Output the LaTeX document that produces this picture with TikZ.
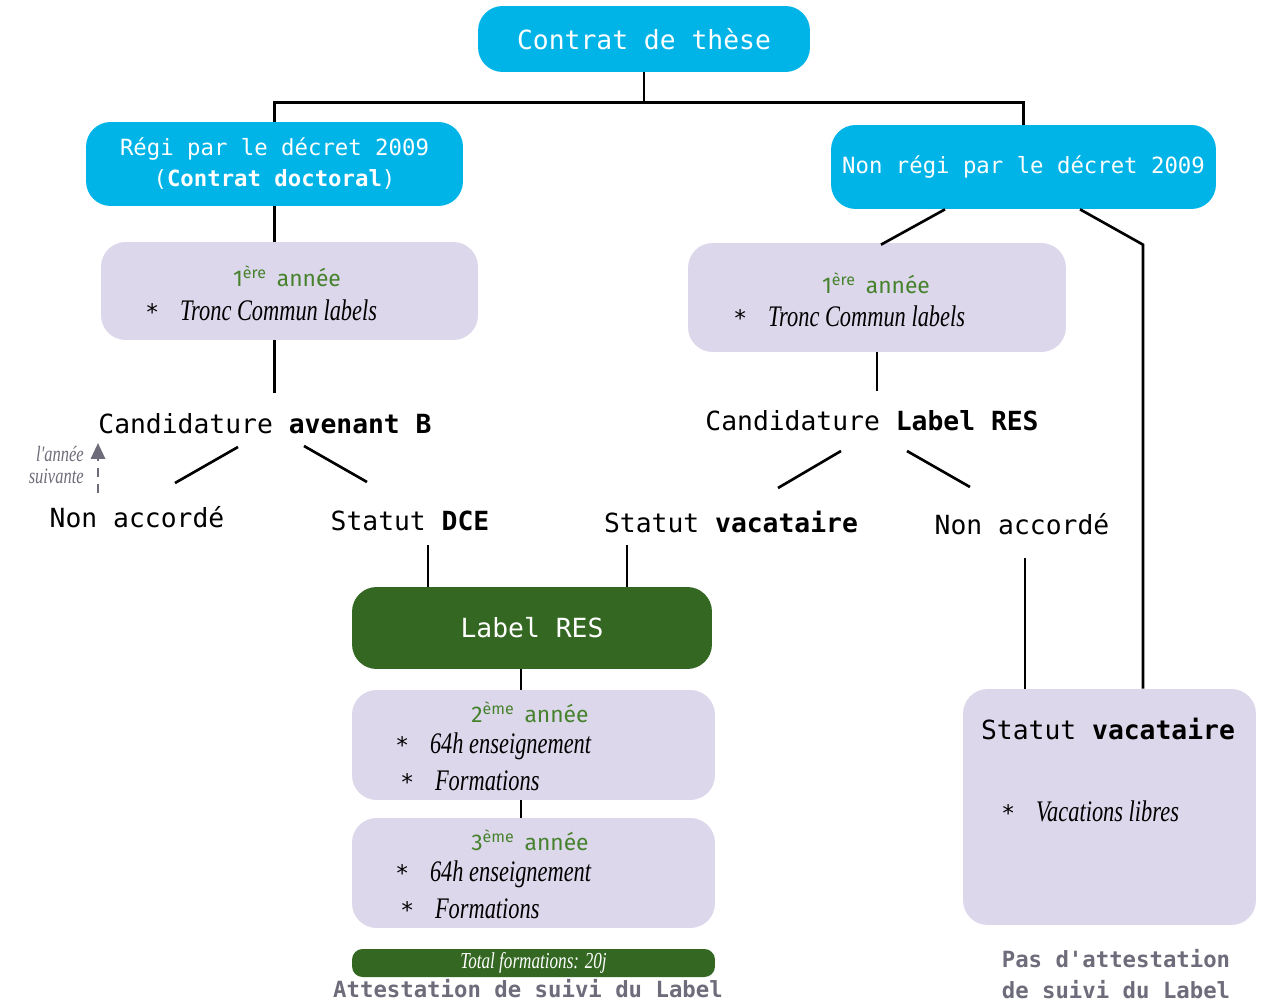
\documentclass[tikz,border=0pt]{standalone}
\usepackage{fontspec}
\setmonofont{DejaVu Sans Mono}
\newfontfamily\anneefont{Fira Sans}
\newfontfamily\handfont[FakeStretch=0.75]{Liberation Serif}
\usepackage{xcolor}
\usetikzlibrary{positioning,arrows.meta}

\definecolor{cyanbox}{RGB}{0,180,232}
\definecolor{lilas}{RGB}{221,215,235}
\definecolor{vertlabel}{RGB}{52,104,34}
\definecolor{vertannee}{RGB}{70,130,45}
\definecolor{grisnote}{RGB}{110,108,122}

\newcommand{\grand}{\ttfamily\fontsize{15}{18}\selectfont}
\newcommand{\moyen}{\ttfamily\fontsize{12.7}{17.6}\selectfont}
\newcommand{\etoile}{{\ttfamily\upshape\fontsize{13}{13}\selectfont *}\hspace{0.7em}}

\tikzset{
  bleu/.style={rounded corners=14pt, fill=cyanbox, text=white, align=center, inner sep=0pt},
  lilasbox/.style={rounded corners=14pt, fill=lilas},
  etiq/.style={font=\grand, inner sep=0pt},
  annee/.style={font=\anneefont\fontsize{13}{15}\selectfont, text=vertannee, inner sep=0pt},
  puce/.style={anchor=west, inner sep=0pt, font=\handfont\itshape\fontsize{17}{20}\selectfont},
  note/.style={text=grisnote, inner sep=0pt},
  trait/.style={line width=1.5pt}
}

\begin{document}
\begin{tikzpicture}[x=0.02cm, y=-0.02cm]
        \useasboundingbox (0,0) rectangle (1271,1003);

        % Boites du haut
        \node[bleu, font=\grand, minimum width=6.64cm, minimum height=1.32cm] (contrat) at (644,39) {Contrat de thèse};
        \node[bleu, font=\moyen, minimum width=7.54cm, minimum height=1.68cm] (regi) at (274.5,164) {Régi par le décret 2009\\(\textbf{Contrat doctoral})};
        \node[bleu, font=\moyen, minimum width=7.7cm, minimum height=1.68cm] (nonregi) at (1023.5,167) {Non régi par le décret 2009};

        % Premiere annee
        \node[lilasbox, minimum width=7.54cm, minimum height=1.96cm] (lilasG) at (289.5,291) {};
        \node[annee] (anneeG) at (287,276) {1\textsuperscript{ère}\, année};
        \node[puce] (troncG) at (145,310) {\etoile Tronc Commun labels};

        \node[lilasbox, minimum width=7.56cm, minimum height=2.18cm] (lilasD) at (877,297.5) {};
        \node[annee] (anneeD) at (876,283) {1\textsuperscript{ère}\, année};
        \node[puce] (troncD) at (733,316) {\etoile Tronc Commun labels};

        % Candidatures
        \node[etiq] (candB) at (265,424) {Candidature \textbf{avenant B}};
        \node[etiq] (nonaccB) at (137,517) {Non accordé};
        \node[etiq] (dce) at (410,521) {Statut \textbf{DCE}};
        \node[etiq] (candR) at (872,421) {Candidature \textbf{Label RES}};
        \node[etiq] (vac) at (731,522) {Statut \textbf{vacataire}};
        \node[etiq] (nonaccR) at (1022,524) {Non accordé};

        \node[note, font=\handfont\itshape\fontsize{12.5}{12}\selectfont, align=right, anchor=east] (suivante) at (84,465) {l'année\\suivante};

        % Label RES
        \node[bleu, fill=vertlabel, font=\grand, minimum width=7.2cm, minimum height=1.64cm] (label) at (532,628) {Label RES};

        \node[lilasbox, minimum width=7.26cm, minimum height=2.2cm] (lilas2) at (533.5,745) {};
        \node[annee] (annee2) at (530,712) {2\textsuperscript{ème}\, année};
        \node[puce] (ens2) at (395,746) {\etoile 64h enseignement};
        \node[puce] (form2) at (400,781) {\etoile Formations};

        \node[lilasbox, minimum width=7.26cm, minimum height=2.2cm] (lilas3) at (533.5,873) {};
        \node[annee] (annee3) at (530,840) {3\textsuperscript{ème}\, année};
        \node[puce] (ens3) at (395,874) {\etoile 64h enseignement};
        \node[puce] (form3) at (400,909) {\etoile Formations};

        \node[bleu, fill=vertlabel, rounded corners=6pt, font=\handfont\itshape\fontsize{13}{15}\selectfont, minimum width=7.26cm, minimum height=0.56cm] (total) at (533.5,963) {Total formations: 20j};
        \node[note, font=\moyen\bfseries] (attest) at (528,989) {Attestation de suivi du Label};

        % Vacataire hors label
        \node[lilasbox, minimum width=5.86cm, minimum height=4.72cm] (vacbox) at (1109.5,807) {};
        \node[etiq] (vacD) at (1108,729) {Statut \textbf{vacataire}};
        \node[puce] (libres) at (1001,811) {\etoile Vacations libres};
        \node[note, font=\moyen\bfseries, align=center] (pasattest) at (1116,974) {Pas d'attestation\\de suivi du Label};

        % Liens
        \draw[trait] (contrat.south) -- ++(0,30) coordinate (split);
        \draw[trait] (split) -| (regi.north);
        \draw[trait] (split) -| (nonregi.north);
        \draw[trait] (regi.south) -- (regi.south |- lilasG.north);
        \draw[trait] (regi.south |- lilasG.south) -- ([shift={(9.5,-31)}]candB.center);
        \draw[trait] ([shift={(-27,23)}]candB.center) -- ([shift={(38,-34)}]nonaccB.center);
        \draw[trait] ([shift={(39,22)}]candB.center) -- ([shift={(-43,-39)}]dce.center);
        \draw[trait] ([shift={(18,24)}]dce.center) coordinate (a) -- (a |- label.north);
        \draw[trait] ([shift={(-104,23)}]vac.center) coordinate (b) -- (b |- label.north);
        \draw[trait] ([shift={(-11,0)}]label.south) coordinate (c) -- (c |- lilas2.north);
        \draw[trait] (c |- lilas2.south) -- (c |- lilas3.north);

        \draw[trait] ([shift={(-78.5,0)}]nonregi.south) -- ([shift={(4,2)}]lilasD.north);
        \draw[trait] ([shift={(0,-30)}]candR.center) coordinate (e);
        \draw[trait] (lilasD.south) -- (lilasD.south |- e);
        \draw[trait] ([shift={(-31,30)}]candR.center) -- ([shift={(47,-34)}]vac.center);
        \draw[trait] ([shift={(35,30)}]candR.center) -- ([shift={(-52,-37)}]nonaccR.center);
        \draw[trait] ([shift={(3,34)}]nonaccR.center) coordinate (d) -- (d |- vacbox.north);
        \draw[trait] ([shift={(56.5,0)}]nonregi.south) -- ([shift={(33.5,-444)}]vacbox.north) -- ([shift={(33.5,0)}]vacbox.north);

        % Retour l'annee suivante
        \draw[grisnote, line width=1.5pt, dash pattern=on 5pt off 4pt, -{Triangle[width=8pt,length=9pt]}] ([shift={(-39,-24)}]nonaccB.center) -- ([shift={(-167,19)}]candB.center);
    \end{tikzpicture}
\end{document}
